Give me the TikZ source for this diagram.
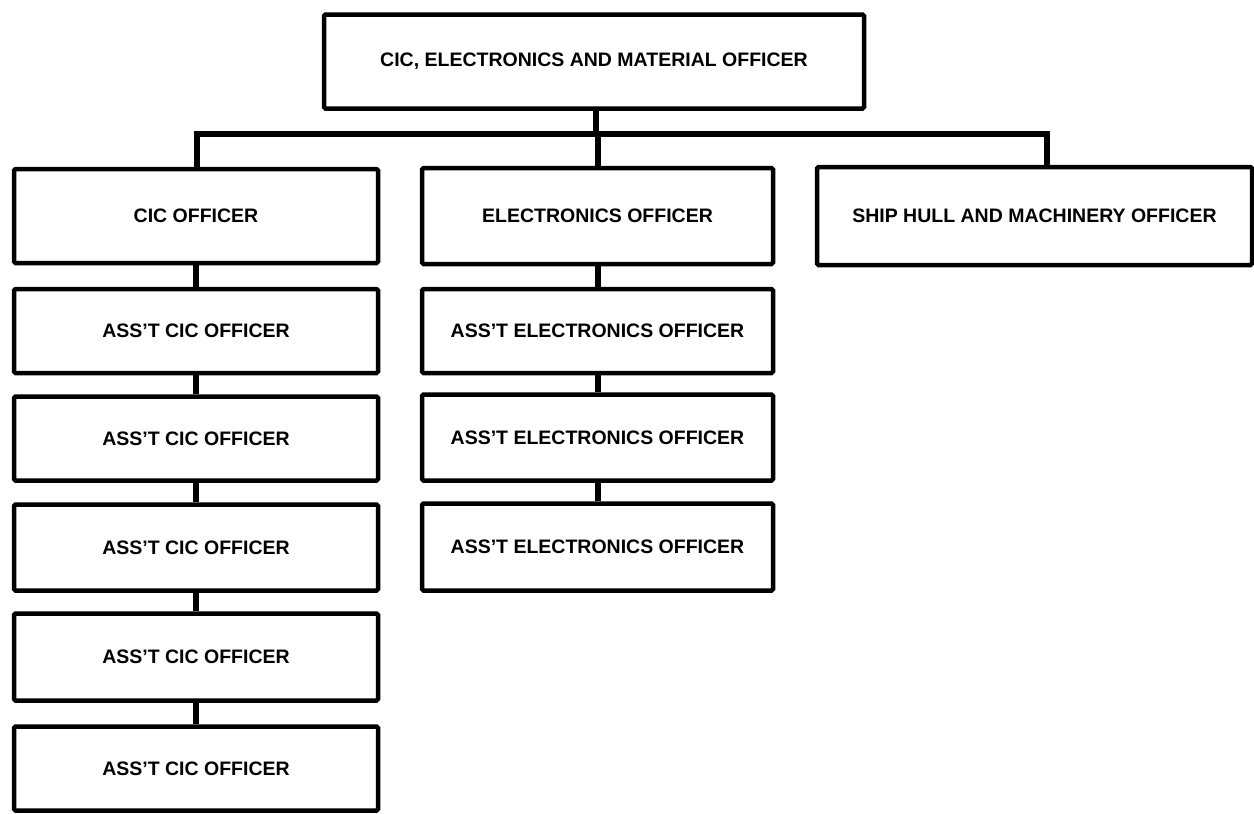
\documentclass[tikz,border=0pt]{standalone}
\usepackage{fontspec}
\setmainfont{Liberation Sans}
\begin{document}
\begin{tikzpicture}[x=1pt,y=-1pt,
  box/.style={draw, line width=4.5pt, rounded corners=1.5pt, inner sep=0pt,
    font=\bfseries\fontsize{19.5}{22}\selectfont},
  conn/.style={line width=6pt, line join=miter}]
\useasboundingbox[fill=white] (0,0) rectangle (1254,814);
% top
\node[box, minimum width=540pt, minimum height=94pt] (top) at (594,61.5) {CIC, ELECTRONICS AND MATERIAL OFFICER};
% level 2
\node[box, minimum width=364pt, minimum height=94pt] (cic) at (196,216) {CIC OFFICER};
\node[box, minimum width=351pt, minimum height=96pt] (elec) at (597.5,216) {ELECTRONICS OFFICER};
\node[box, minimum width=435pt, minimum height=98pt] (ship) at (1034.5,216) {SHIP HULL AND MACHINERY OFFICER};
% CIC column
\node[box, minimum width=364pt, minimum height=84pt] (a1) at (196,331) {ASS'T CIC OFFICER};
\node[box, minimum width=364pt, minimum height=84pt] (a2) at (196,438.5) {ASS'T CIC OFFICER};
\node[box, minimum width=364pt, minimum height=86pt] (a3) at (196,547.5) {ASS'T CIC OFFICER};
\node[box, minimum width=364pt, minimum height=87pt] (a4) at (196,657) {ASS'T CIC OFFICER};
\node[box, minimum width=364pt, minimum height=84pt] (a5) at (196,768.5) {ASS'T CIC OFFICER};
% Electronics column
\node[box, minimum width=351pt, minimum height=84pt] (e1) at (597.5,331) {ASS'T ELECTRONICS OFFICER};
\node[box, minimum width=351pt, minimum height=86pt] (e2) at (597.5,437.5) {ASS'T ELECTRONICS OFFICER};
\node[box, minimum width=351pt, minimum height=87pt] (e3) at (597.5,547) {ASS'T ELECTRONICS OFFICER};
% connectors
\coordinate (bus) at (0,134);
\draw[conn] ([xshift=1pt]cic.north) |- ([xshift=12.5pt]ship.north |- bus) -- ([xshift=12.5pt]ship.north);
\draw[conn] ([xshift=2pt]top.south) -- ([xshift=2pt]top.south |- bus);
\draw[conn] (elec.north) -- (elec.north |- bus);
\draw[conn] (cic.south) -- (a1.north);
\draw[conn] (a1.south) -- (a2.north);
\draw[conn] (a2.south) -- (a3.north);
\draw[conn] (a3.south) -- (a4.north);
\draw[conn] (a4.south) -- (a5.north);
\draw[conn] (elec.south) -- (e1.north);
\draw[conn] (e1.south) -- (e2.north);
\draw[conn] (e2.south) -- (e3.north);
\end{tikzpicture}
\end{document}
